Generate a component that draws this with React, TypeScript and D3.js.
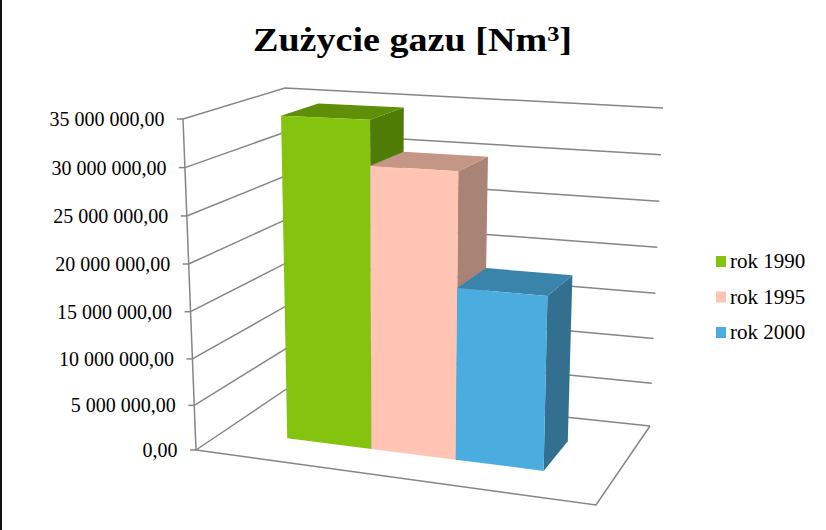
import React from "react";
import * as d3 from "d3";

const categories = ["rok 1990", "rok 1995", "rok 2000"];
const gasUse = [34500000, 29800000, 18000000];
const frontColors = ["#84C40E", "#FFC4B4", "#4BACDF"];
const topColors = ["#5F8F08", "#C49686", "#3A84AB"];
const sideColors = ["#4E7C05", "#A98375", "#33708F"];
const yTicks = [0, 5000000, 10000000, 15000000, 20000000, 25000000, 30000000, 35000000];
const titleText = "Zużycie gazu [Nm";

type P = [number, number];
const W = 826, H = 530;

// projective map of the unit square onto a quadrilateral (p00, p10, p11, p01)
function homography(a: P, b: P, c: P, d: P) {
  const dx1 = b[0] - c[0], dx2 = d[0] - c[0], sx = a[0] - b[0] + c[0] - d[0];
  const dy1 = b[1] - c[1], dy2 = d[1] - c[1], sy = a[1] - b[1] + c[1] - d[1];
  const det = dx1 * dy2 - dx2 * dy1;
  const g = (sx * dy2 - dx2 * sy) / det;
  const h = (dx1 * sy - sx * dy1) / det;
  const A = b[0] - a[0] + g * b[0], B = d[0] - a[0] + h * d[0];
  const D = b[1] - a[1] + g * b[1], E = d[1] - a[1] + h * d[1];
  return (u: number, v: number): P => {
    const z = g * u + h * v + 1;
    return [(A * u + B * v + a[0]) / z, (D * u + E * v + a[1]) / z];
  };
}

const floor = homography([196, 450], [596, 505], [650, 426], [288, 388]);
// rise of the full axis height over each floor corner
const rise = {
  fl: [-13, -331] as P,
  fr: [10, -365] as P,
  br: [13, -318] as P,
  bl: [-3, -300] as P,
};
const tScale = d3.scalePow().exponent(1.03).domain([0, 35000000]).range([0, 1]);
const uScale = d3.scalePow().exponent(0.95).domain([0, categories.length]).range([0.183, 0.843]);
const depthFront = 0.29, depthBack = 0.68;

function project(u: number, w: number, value: number): P {
  const t = tScale(value);
  const f = floor(u, w);
  const r = [0, 1].map(
    (k) =>
      (1 - u) * (1 - w) * rise.fl[k] + u * (1 - w) * rise.fr[k] + u * w * rise.br[k] + (1 - u) * w * rise.bl[k]
  );
  return [f[0] + r[0] * t, f[1] + r[1] * t];
}
const poly = d3.line<P>().x((d) => d[0]).y((d) => d[1]);
const closed = (pts: P[]) => poly(pts) + "Z";
const fmt = (v: number) => d3.format(",.2f")(v).replace(/,/g, " ").replace(".", ",");

const serif = "'Liberation Serif', 'Times New Roman', serif";
const gridColor = "#868686";

export default function App() {
  return (
    <svg width={W} height={H} style={{ position: "absolute", left: 0, top: 0, background: "#fff" }}>
      <line x1={1} y1={0} x2={1} y2={H} stroke="#111" strokeWidth={2} />
      <text x={253} y={51} fontFamily={serif} fontWeight="bold" fontSize={33} fill="#000" textLength={319} lengthAdjust="spacingAndGlyphs">
        {titleText}
        <tspan dy={-10} fontSize={21}>3</tspan>
        <tspan dy={10}>]</tspan>
      </text>
      {yTicks.map((v) => {
        const a = project(0, 0, v), b = project(0, 1, v), c = project(1, 1, v);
        return (
          <g key={v}>
            <path d={poly([a, b, c])!} fill="none" stroke={gridColor} strokeWidth={1.5} />
            <line x1={a[0] - 6} y1={a[1]} x2={a[0]} y2={a[1]} stroke={gridColor} strokeWidth={1.5} />
            <text x={a[0] - 18.5} y={a[1] + 7} textAnchor="end" fontFamily={serif} fontSize={20} fill="#000">{fmt(v)}</text>
          </g>
        );
      })}
      <path d={poly([project(0, 0, 0), project(0, 0, 35000000)])!} fill="none" stroke={gridColor} strokeWidth={1.5} />
      <path d={poly([project(0, 0, 0), project(1, 0, 0), project(1, 1, 0)])!} fill="none" stroke={gridColor} strokeWidth={1.5} />
      {categories.map((cat, i) => {
        const u0 = uScale(i), u1 = uScale(i + 1), v = gasUse[i];
        return (
          <g key={cat}>
            <path d={closed([project(u1, depthFront, 0), project(u1, depthBack, 0), project(u1, depthBack, v), project(u1, depthFront, v)])} fill={sideColors[i]} />
            <path d={closed([project(u0, depthFront, v), project(u1, depthFront, v), project(u1, depthBack, v), project(u0, depthBack, v)])} fill={topColors[i]} />
            <path d={closed([project(u0, depthFront, 0), project(u1, depthFront, 0), project(u1, depthFront, v), project(u0, depthFront, v)])} fill={frontColors[i]} />
          </g>
        );
      })}
      {categories.map((cat, i) => (
        <g key={cat} transform={`translate(716,${261.5 + i * 35.5})`}>
          <rect x={0} y={-5.5} width={10} height={11} fill={frontColors[i]} />
          <text x={14} y={6.5} fontFamily={serif} fontSize={21} fill="#000">{cat}</text>
        </g>
      ))}
    </svg>
  );
}
